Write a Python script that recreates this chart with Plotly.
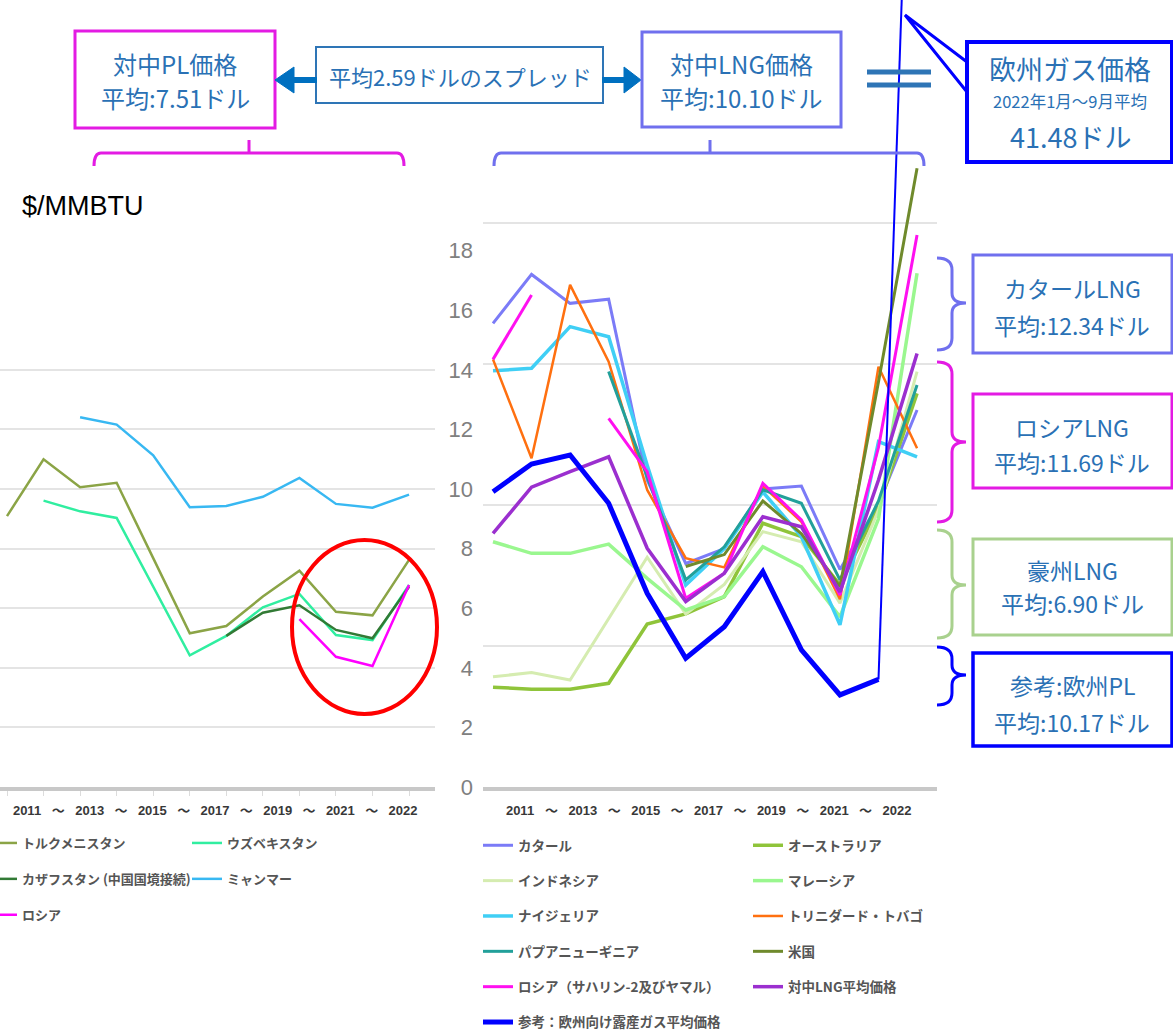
import numpy as np
import plotly.graph_objects as go

W, H = 1173, 1031

years = list(range(2011, 2023))

# Pipeline gas delivered to China ($/MMBTU)
turkmenistan = [9.09, 11.00, 10.06, 10.21, 7.68, 5.16, 5.40, 6.39, 7.26, 5.88, 5.76, 7.62]
uzbekistan = [None, 9.61, 9.25, 9.03, 6.72, 4.42, 5.07, 6.03, 6.48, 5.10, 4.93, 6.78]
kazakhstan = [None, None, None, None, None, None, 5.07, 5.85, 6.10, 5.27, 4.99, 6.72]
myanmar = [None, None, 12.41, 12.16, 11.13, 9.39, 9.43, 9.74, 10.37, 9.50, 9.37, 9.81]
russia_pl = [None, None, None, None, None, None, None, None, 5.63, 4.37, 4.06, 6.78]

# LNG delivered to China ($/MMBTU)
qatar = [15.56, 17.20, 16.23, 16.37, 10.30, 7.50, 8.00, 10.00, 10.10, 7.30, 9.50, 12.65]
australia = [3.35, 3.28, 3.28, 3.48, 5.47, 5.81, 6.39, 8.85, 8.40, 6.78, 9.40, 13.21]
indonesia = [3.70, 3.84, 3.59, 5.65, 7.71, 5.80, 6.80, 8.57, 8.23, 6.17, 9.30, 13.94]
malaysia = [8.23, 7.84, 7.84, 8.15, 7.00, 5.94, 6.39, 8.06, 7.39, 5.71, 9.00, 17.24]
nigeria = [13.97, 14.05, 15.45, 15.11, 10.80, 6.78, 8.00, 9.90, 8.40, 5.44, 11.59, 11.08]
trinidad = [14.35, 11.03, 16.85, 14.27, 9.97, 7.68, 7.37, 10.10, 8.90, 6.30, 14.10, 11.37]
png = [None, None, None, 13.94, 10.40, 6.95, 8.06, 9.97, 9.52, 6.95, 9.60, 13.49]
usa = [None, None, None, None, None, 7.40, 7.80, 9.60, 8.50, 6.72, 13.60, 20.76]
russia_lng = [14.35, 16.51, None, 12.37, 10.58, 6.33, 7.17, 10.19, 8.96, 6.44, 11.40, 18.52]
china_lng_avg = [8.51, 10.06, 10.58, 11.08, 8.01, 6.22, 7.17, 9.07, 8.73, 6.55, 10.30, 14.55]
# Reference: Russian pipeline gas to Europe
euro_pl = [9.91, 10.84, 11.14, 9.52, 6.50, 4.32, 5.38, 7.23, 4.60, 3.09, 3.61, 41.48]

tick_text = ["2011", "～", "2013", "～", "2015", "～", "2017", "～", "2019", "～", "2021", "～", "2022"]
y_tick_values = list(range(0, 19, 2))

# ---- page geometry helpers (pixels -> paper fractions) ----
def px(x):
    return x / W


def py(y):
    return 1 - y / H


def path(*parts):
    out = []
    for p in parts:
        if isinstance(p, str):
            out.append(p)
        else:
            out.append(f"{px(p[0]):.5f},{py(p[1]):.5f}")
    return " ".join(out)


Y0_PIX = 787          # baseline row
PIX_PER_UNIT = 29.8   # vertical scale shared by both panels
y_range = [0, Y0_PIX / PIX_PER_UNIT]
y_domain = [py(Y0_PIX), 1.0]

# left panel: 2011 at x=7px, 36.55 px per year, panel 0..435 px
L_STEP = 36.55
left_x_range = [2011 - 7 / L_STEP, 2011 + (435 - 7) / L_STEP]
left_ticks = list(np.linspace(2011 + 20 / L_STEP, 2011 + 396 / L_STEP, 13))
# right panel: 2011 at x=493px, 38.55 px per year, panel 483..937 px
R_STEP = 38.55
right_x_range = [2011 - 10 / R_STEP, 2011 + (937 - 493) / R_STEP]
right_ticks = list(np.linspace(2011 + 27 / R_STEP, 2011 + 404 / R_STEP, 13))
right_grid = [4.73, 9.46, 14.19, 18.92]

TXT = "#2a71b5"
MAGENTA = "#e31be3"
SLATE = "#7070ee"
LIGHTGREEN = "#a9d18e"
BLUE = "#0000ff"
CJK = "Noto Sans CJK JP"

fig = go.Figure()

left_series = [
    ("トルクメニスタン", turkmenistan, "#8ba446", 2.5, "legend"),
    ("ウズベキスタン", uzbekistan, "#30eea0", 2.5, "legend2"),
    ("カザフスタン (中国国境接続)", kazakhstan, "#327a35", 2.5, "legend"),
    ("ミャンマー", myanmar, "#38b8f2", 2.5, "legend2"),
    ("ロシア", russia_pl, "#ff00ff", 2.5, "legend"),
]
for name, vals, color, width, leg in left_series:
    fig.add_trace(go.Scatter(
        x=years, y=vals, mode="lines", name=name, legendgroup=name,
        line=dict(color=color, width=width), connectgaps=False,
        xaxis="x", yaxis="y", legend=leg))

right_series = [
    ("カタール", qatar, "#7b7bf7", 3, "legend3"),
    ("オーストラリア", australia, "#8fc43a", 3.5, "legend4"),
    ("インドネシア", indonesia, "#d5ecb0", 3, "legend3"),
    ("マレーシア", malaysia, "#9af78f", 3.5, "legend4"),
    ("ナイジェリア", nigeria, "#40cff5", 3.5, "legend3"),
    ("トリニダード・トバゴ", trinidad, "#ff7010", 2.5, "legend4"),
    ("パプアニューギニア", png, "#22a09a", 3, "legend3"),
    ("米国", usa, "#6f8a2c", 3, "legend4"),
    ("ロシア（サハリン-2及びヤマル）", russia_lng, "#ff10f0", 3, "legend3"),
    ("対中LNG平均価格", china_lng_avg, "#9b2fcf", 3.5, "legend4"),
]
for name, vals, color, width, leg in right_series:
    fig.add_trace(go.Scatter(
        x=years, y=vals, mode="lines", name=name, legendgroup=name,
        line=dict(color=color, width=width), connectgaps=False,
        xaxis="x2", yaxis="y2", legend=leg))

euro_name = "参考：欧州向け露産ガス平均価格"
fig.add_trace(go.Scatter(
    x=years[:-1], y=euro_pl[:-1], mode="lines", name=euro_name, legendgroup=euro_name,
    line=dict(color=BLUE, width=5), xaxis="x2", yaxis="y2", legend="legend3"))
# 2022 jump drawn as a thin segment
fig.add_trace(go.Scatter(
    x=years[-2:], y=euro_pl[-2:], mode="lines", name=euro_name, legendgroup=euro_name,
    line=dict(color=BLUE, width=2), xaxis="x2", yaxis="y2", showlegend=False))


def legend_style(size, gap):
    return dict(orientation="v", xanchor="left", yanchor="top", bgcolor="rgba(0,0,0,0)",
                font=dict(family=CJK, size=size, color="#555555", weight="bold"),
                traceorder="grouped", tracegroupgap=gap, itemwidth=30)


axis_font = dict(family="Arial, " + CJK, size=13, color="#383838", weight="bold")

fig.update_layout(
    width=W, height=H, autosize=False,
    margin=dict(l=0, r=0, t=0, b=0, pad=0, autoexpand=False),
    paper_bgcolor="white", plot_bgcolor="white",
    xaxis=dict(domain=[0, px(435)], range=left_x_range, anchor="y",
               tickmode="array", tickvals=left_ticks, ticktext=tick_text,
               tickfont=axis_font, ticks="", ticklabelstandoff=8,
               showgrid=False, zeroline=False,
               showline=True, linecolor="#c8c8c8", linewidth=4,
               minor=dict(tickvals=years, ticks="outside", ticklen=5, tickcolor="#dcdcdc", showgrid=False)),
    yaxis=dict(domain=y_domain, range=y_range, anchor="x",
               tickmode="array", tickvals=list(range(0, 15, 2)), showticklabels=False,
               ticks="", showgrid=True, gridcolor="#e4e4e4", gridwidth=2, zeroline=False),
    xaxis2=dict(domain=[px(483), px(937)], range=right_x_range, anchor="y2",
                tickmode="array", tickvals=right_ticks, ticktext=tick_text,
                tickfont=axis_font, ticks="", ticklabelstandoff=8,
                showgrid=False, zeroline=False,
                showline=True, linecolor="#c8c8c8", linewidth=4),
    yaxis2=dict(domain=y_domain, range=y_range, anchor="x2",
                tickmode="array", tickvals=y_tick_values,
                tickfont=dict(family="Arial", size=22, color="#808080"),
                ticks="", ticklabelstandoff=9, showgrid=False, zeroline=False,
                minor=dict(tickvals=right_grid, showgrid=True, gridcolor="#e4e4e4", gridwidth=2, ticks="")),
    legend=dict(x=px(-18), y=py(828), **legend_style(13, 16)),
    legend2=dict(x=px(187), y=py(828), **legend_style(13, 16)),
    legend3=dict(x=px(478), y=py(830), **legend_style(13.5, 14.8)),
    legend4=dict(x=px(748), y=py(830), **legend_style(13.5, 14.8)),
    showlegend=True,
)

shapes = []
annotations = []


def box(x0, y0, x1, y1, color, width):
    shapes.append(dict(type="rect", xref="paper", yref="paper",
                       x0=px(x0), x1=px(x1), y0=py(y1), y1=py(y0),
                       line=dict(color=color, width=width), fillcolor="white", layer="above"))


def text(x, y, s, size, color=TXT, family=CJK, xanchor="center"):
    annotations.append(dict(xref="paper", yref="paper", x=px(x), y=py(y), text=s,
                            showarrow=False, xanchor=xanchor, yanchor="middle",
                            font=dict(family=family, size=size, color=color)))


def stroke(d, color, width, fill=None):
    shp = dict(type="path", xref="paper", yref="paper", path=d,
               line=dict(color=color, width=width), layer="above")
    if fill:
        shp["fillcolor"] = fill
    shapes.append(shp)


# top boxes
box(75, 31, 275, 128, MAGENTA, 3)
text(175, 63, "対中PL価格", 24)
text(175, 97, "平均:7.51ドル", 24)

box(316, 47, 603, 103, "#2e75b6", 2)
text(460, 76, "平均2.59ドルのスプレッド", 22)

ARROW = "#0070c0"
stroke(path("M", (292, 80), "L", (317, 80)), ARROW, 6)
stroke(path("M", (275, 80), "L", (294, 67), "L", (294, 93), "Z"), ARROW, 1, ARROW)
stroke(path("M", (602, 80), "L", (626, 80)), ARROW, 6)
stroke(path("M", (641, 80), "L", (624, 67), "L", (624, 93), "Z"), ARROW, 1, ARROW)

box(642, 32, 841, 127, SLATE, 3)
text(741, 63, "対中LNG価格", 24)
text(741, 97, "平均:10.10ドル", 24)

# equals sign
stroke(path("M", (867, 72), "L", (931, 72)), "#2e75b6", 5)
stroke(path("M", (867, 85), "L", (931, 85)), "#2e75b6", 5)

# European gas callout
box(967, 42, 1172, 162, BLUE, 4)
stroke(path("M", (967, 62), "L", (905, 15), "L", (967, 92)), BLUE, 3)
text(1070, 68, "欧州ガス価格", 27)
text(1070, 101, "2022年1月～9月平均", 16.5)
text(1070, 136, "41.48ドル", 27)

# brackets under the top boxes
stroke(path("M", (94, 166), "Q", (94, 153), (101, 153), "L", (397, 153),
            "Q", (404, 153), (404, 166), "M", (249, 153), "L", (249, 140)), MAGENTA, 3)
stroke(path("M", (494, 166), "Q", (494, 153), (501, 153), "L", (917, 153),
            "Q", (924, 153), (924, 166), "M", (710, 153), "L", (710, 140)), SLATE, 3)


def brace(y0, y1, ymid, color):
    xo, xv, xt = 937, 952, 966
    stroke(path("M", (xo, y0), "Q", (xv, y0), (xv, y0 + 12), "L", (xv, ymid - 10),
                "Q", (xv, ymid), (xt, ymid), "Q", (xv, ymid), (xv, ymid + 10),
                "L", (xv, y1 - 12), "Q", (xv, y1), (xo, y1)), color, 3)


BOX_FONT = 23
brace(258, 350, 303, SLATE)
box(973, 255, 1172, 353, SLATE, 3)
text(1072, 288, "カタールLNG", BOX_FONT)
text(1072, 325, "平均:12.34ドル", BOX_FONT)

brace(362, 522, 442, MAGENTA)
box(973, 394, 1172, 488, MAGENTA, 3)
text(1072, 427, "ロシアLNG", BOX_FONT)
text(1072, 462, "平均:11.69ドル", BOX_FONT)

brace(530, 638, 585, LIGHTGREEN)
box(973, 539, 1172, 635, LIGHTGREEN, 3)
text(1072, 570, "豪州LNG", BOX_FONT)
text(1072, 603, "平均:6.90ドル", BOX_FONT)

brace(647, 705, 675, BLUE)
box(973, 653, 1172, 746, BLUE, 3.5)
text(1072, 685, "参考:欧州PL", BOX_FONT)
text(1072, 722, "平均:10.17ドル", BOX_FONT)

# unit label
text(20, 206, "$/MMBTU", 27, color="#000000", family="Arial", xanchor="left")

# highlight around the recent Russian pipeline prices
shapes.append(dict(type="circle", xref="paper", yref="paper",
                   x0=px(292), x1=px(437), y0=py(714), y1=py(540),
                   line=dict(color="#ff0000", width=4), layer="above"))

fig.update_layout(shapes=shapes, annotations=annotations)

fig.write_html("out.html")
